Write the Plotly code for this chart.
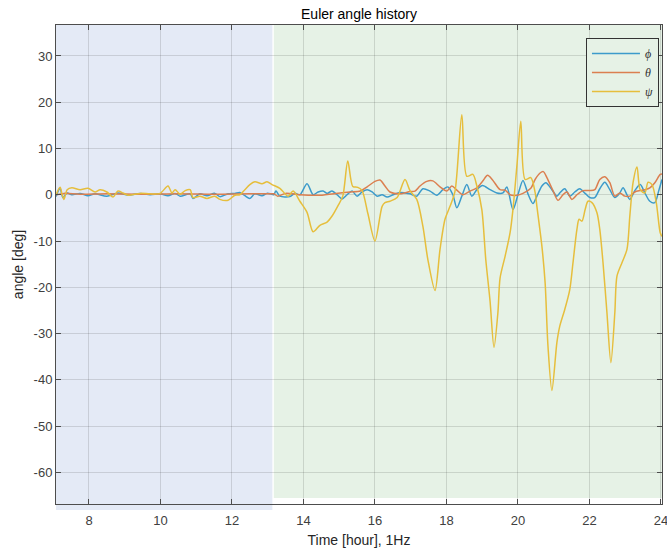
import plotly.graph_objects as go

# ---------------------------------------------------------------------------
# Euler angle history (degrees) vs. time of day (hours)
# ---------------------------------------------------------------------------
phi_t = [7.08, 7.19, 7.27, 7.39, 7.52, 7.75, 7.97, 8.17, 8.50, 8.81, 9.09, 9.43,
         9.71, 9.99, 10.21, 10.41, 10.55, 10.83, 10.91, 11.10, 11.30, 11.52,
         11.66, 11.89, 12.08, 12.22, 12.36, 12.50, 12.64, 12.84, 12.98, 13.12,
         13.17, 13.23, 13.34, 13.62, 13.76, 13.90, 14.10, 14.27, 14.41, 14.55,
         14.66, 14.80, 14.94, 15.08, 15.22, 15.36, 15.50, 15.64, 15.78, 15.92,
         16.06, 16.20, 16.34, 16.51, 16.70, 16.84, 16.98, 17.17, 17.34, 17.54,
         17.73, 17.90, 18.04, 18.18, 18.29, 18.43, 18.57, 18.71, 18.85, 19.01,
         19.22, 19.41, 19.58, 19.69, 19.86, 20.00, 20.14, 20.29, 20.42, 20.53,
         20.67, 20.78, 20.95, 21.09, 21.17, 21.31, 21.45, 21.59, 21.73, 21.88,
         22.01, 22.15, 22.29, 22.43, 22.57, 22.71, 22.85, 22.94, 23.05, 23.13,
         23.27, 23.42, 23.55, 23.69, 23.83, 23.94, 24.03]
phi_deg = [-0.4, 1.4, -0.6, 0.4, 0.0, 0.3, -0.2, 0.2, -0.3, 0.4, -0.1, 0.3,
           0.0, 0.2, -0.2, 0.3, -0.3, 0.2, -0.8, 0.2, -0.2, 0.3,
           -0.4, 0.2, 0.3, 0.5, -0.2, -0.8, 0.2, -0.2, 0.3, 0.1,
           0.0, 0.8, -0.3, -0.4, 0.3, 0.0, 2.4, 0.0, 0.6, 0.8,
           0.3, 0.8, 0.0, -0.9, 0.0, 0.8, -0.3, 0.6, 1.1, 0.6,
           -0.3, 0.0, -0.5, 0.0, 0.5, 0.4, 0.2, -0.3, 1.3, 0.8,
           -0.1, 1.1, 1.7, 0.0, -2.8, -0.3, 2.2, -0.3, 1.1, 2.0,
           1.1, 0.4, 0.4, 1.7, -3.2, 0.0, 3.1, 0.0, -1.9, -0.3,
           1.9, 2.6, 1.1, -0.3, 0.4, 1.3, -0.3, 0.6, 1.3, 0.3,
           -0.6, -0.6, 1.3, 2.7, 1.1, -0.6, 0.4, 1.5, 0.0, -1.0,
           0.9, 2.2, 0.4, -1.4, -1.7, 0.9, 3.3]

theta_t = [7.08, 7.30, 7.75, 8.50, 9.50, 10.50, 11.50, 12.50, 13.12,
           13.17, 13.28, 13.50, 13.90, 14.46, 15.03, 15.31, 15.59, 15.78, 16.00,
           16.14, 16.28, 16.42, 16.70, 16.98, 17.12, 17.26, 17.45, 17.62, 17.82,
           18.01, 18.15, 18.29, 18.46, 18.66, 18.85, 19.01, 19.15, 19.29, 19.50,
           19.64, 19.78, 19.97, 20.14, 20.36, 20.48, 20.62, 20.71, 20.81, 20.98,
           21.12, 21.26, 21.37, 21.51, 21.65, 21.82, 22.01, 22.15, 22.29, 22.43,
           22.57, 22.71, 22.85, 22.99, 23.13, 23.27, 23.42, 23.55, 23.69, 23.83,
           23.98, 24.03]
theta_deg = [0.0, 0.3, 0.1, 0.2, 0.1, 0.2, 0.1, 0.2, 0.2,
             0.2, -0.3, 0.3, 0.0, -0.1, 0.4, 0.6, 0.8, 1.7, 2.9,
             3.2, 1.9, 0.6, 0.2, 0.7, 0.8, 1.9, 2.9, 3.0, 1.7,
             0.8, 1.9, 1.0, 0.0, 0.8, 1.5, 2.9, 4.2, 3.2, 1.1,
             1.0, 0.0, -0.1, 0.3, 1.4, 3.3, 4.7, 5.0, 3.7, 0.9,
             -1.2, 0.0, 0.6, -1.0, 0.0, 0.9, 0.9, 1.1, 3.3, 3.9,
             2.6, -0.3, 0.4, -0.3, -0.3, 0.6, 0.9, 1.1, 1.5, 2.6,
             4.4, 4.5]

psi_t = [7.08, 7.19, 7.25, 7.30, 7.39, 7.52, 7.75, 7.97, 8.17, 8.31, 8.50, 8.67,
         8.81, 8.95, 9.09, 9.43, 9.71, 9.99, 10.21, 10.32, 10.41, 10.55, 10.69,
         10.83, 10.91, 11.10, 11.30, 11.52, 11.66, 11.89, 12.08, 12.22, 12.36,
         12.50, 12.64, 12.84, 12.98, 13.12, 13.34, 13.57, 13.71, 13.90, 14.10,
         14.27, 14.46, 14.66, 14.80, 14.97, 15.10, 15.24, 15.38, 15.52, 15.64,
         15.80, 16.00, 16.20, 16.28, 16.42, 16.62, 16.84, 16.98, 17.17, 17.34,
         17.48, 17.68, 17.82, 17.96, 18.10, 18.24, 18.43, 18.57, 18.74, 18.85,
         18.99, 19.10, 19.22, 19.33, 19.44, 19.50, 19.64, 19.78, 19.86, 19.97,
         20.08, 20.20, 20.36, 20.48, 20.53, 20.67, 20.76, 20.84, 20.95, 21.09,
         21.17, 21.31, 21.45, 21.54, 21.65, 21.71, 21.79, 21.88, 21.96, 22.07,
         22.21, 22.29, 22.38, 22.49, 22.60, 22.71, 22.77, 22.91, 23.05, 23.13,
         23.22, 23.33, 23.42, 23.55, 23.64, 23.75, 23.87, 23.98, 24.03]
psi_deg = [0.0, 1.6, 0.0, -1.0, 1.1, 1.5, 1.1, 1.4, 0.6, 1.1, 0.6, -0.5,
           0.8, 0.4, -0.1, 0.3, 0.2, 0.3, 1.9, 0.4, 1.1, 0.1, 0.9,
           1.1, -0.6, -0.3, -0.8, -0.3, -1.0, -1.2, -0.1, 0.0, 1.1,
           2.2, 2.8, 2.4, 2.8, 2.2, 1.4, -0.3, 0.8, -1.4, -3.8,
           -8.0, -6.6, -5.9, -4.6, -2.3, -0.3, 7.3, 1.8, 1.6, 0.9,
           -4.0, -10.0, -2.5, -1.7, -1.4, -0.6, 3.3, 0.9, -1.0, -6.8,
           -14.0, -20.7, -11.8, -5.3, -2.5, 0.8, 17.3, 4.0, 4.4, 1.9,
           -3.2, -14.0, -23.0, -33.0, -25.4, -18.0, -13.3, -8.2, -3.2, 6.2,
           15.9, 3.3, 3.7, 0.5, -2.5, -11.1, -19.0, -32.7, -42.3, -31.9,
           -28.4, -24.8, -20.5, -14.7, -7.5, -5.3, -5.7, -3.2, -1.4, -1.7,
           -3.9, -7.5, -14.7, -25.5, -36.3, -25.5, -17.6, -14.7, -11.8, -4.6,
           2.6, 6.0, 1.1, 0.4, 2.7, 2.2, -1.7, -8.2, -9.0]

series_names = ["<i>ϕ</i>", "<i>θ</i>", "<i>ψ</i>"]
series_colors = ["#3C9BCB", "#DB7F50", "#E6BE3C"]

# Time segments (hours) shaded in the background
segment_start = [7.05, 13.17]
segment_end = [13.13, 24.05]
segment_colors = ["#E4EAF6", "#E6F2E6"]

x_range = [7.077, 24.03]
y_range = [-66.85, 36.70]
x_ticks = [8, 10, 12, 14, 16, 18, 20, 22, 24]
y_ticks = [30, 20, 10, 0, -10, -20, -30, -40, -50, -60]

fig = go.Figure()

for t, v, name, color in zip([phi_t, theta_t, psi_t],
                             [phi_deg, theta_deg, psi_deg],
                             series_names, series_colors):
    fig.add_trace(go.Scatter(
        x=t, y=v, mode="lines", name=name,
        line=dict(color=color, width=1.5, shape="spline", smoothing=0.8),
    ))

# shaded segments; the first one hangs slightly below the axis, the second
# stops just above it
seg_y0 = [-0.0125, 0.0125]
for x0, x1, c, y0 in zip(segment_start, segment_end, segment_colors, seg_y0):
    fig.add_shape(type="rect", xref="x", yref="paper",
                  x0=x0, x1=x1, y0=y0, y1=1.0,
                  fillcolor=c, line=dict(width=0), layer="below")

axis_common = dict(
    showline=True, linecolor="#4D4D4D", linewidth=1, mirror="ticks",
    ticks="inside", ticklen=5, tickcolor="#4D4D4D", tickwidth=1,
    showgrid=True, gridcolor="rgba(38,38,38,0.15)", gridwidth=1,
    zeroline=False, ticklabeloverflow="allow", automargin=False,
    tickfont=dict(family="Liberation Sans, Arial, sans-serif", size=13,
                  color="#404040"),
)

fig.update_xaxes(
    range=x_range, tickvals=x_ticks, ticktext=[str(v) for v in x_ticks],
    ticklabelstandoff=4,
    title=dict(text="Time [hour], 1Hz", standoff=8,
               font=dict(family="Liberation Sans, Arial, sans-serif",
                         size=14, color="#262626")),
    **axis_common,
)
fig.update_yaxes(
    range=y_range, tickvals=y_ticks, ticktext=[str(v) for v in y_ticks],
    title=dict(text="angle [deg]", standoff=6,
               font=dict(family="Liberation Sans, Arial, sans-serif",
                         size=14, color="#262626")),
    **axis_common,
)

fig.update_layout(
    width=667, height=548,
    margin=dict(l=56, r=5, t=25, b=44, autoexpand=False),
    paper_bgcolor="white", plot_bgcolor="white",
    title=dict(text="Euler angle history", x=0.5, xref="paper",
               y=1 - 14 / 548, yref="container", yanchor="middle",
               font=dict(family="Liberation Sans, Arial, sans-serif",
                         size=14, color="#000000")),
    showlegend=True,
    legend=dict(
        x=0.995, xanchor="right", y=0.973, yanchor="top",
        bgcolor="rgba(230,242,230,1)", bordercolor="#333333", borderwidth=1,
        font=dict(family="Liberation Serif, DejaVu Serif, serif", size=12,
                  color="#333333"),
        tracegroupgap=0, itemwidth=48,
    ),
)

fig.write_html("out.html")
